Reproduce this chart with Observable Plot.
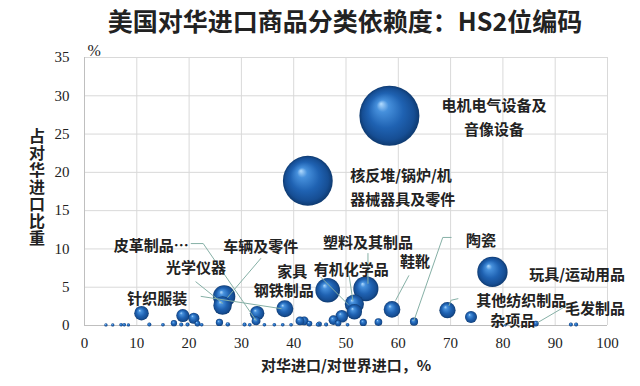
<!DOCTYPE html>
<html><head><meta charset="utf-8">
<script src="https://cdn.jsdelivr.net/npm/d3@7"></script>
<script src="https://cdn.jsdelivr.net/npm/@observablehq/plot@0.6"></script>
<style>
body{margin:0;background:#fff;width:640px;height:386px;overflow:hidden;position:relative;}
#title{height:36px;line-height:40px;text-align:center;font-family:"Noto Sans CJK SC";font-weight:700;font-size:25px;color:#222;padding-left:50px;white-space:nowrap;}
#ylabel{position:absolute;left:27px;top:128px;font-family:"Noto Sans CJK SC";font-weight:700;font-size:16px;line-height:20px;color:#222;writing-mode:vertical-rl;text-orientation:upright;letter-spacing:1px;}
</style></head><body>
<div id="title">美国对华进口商品分类依赖度：HS2位编码</div>
<div id="chart"></div>
<div id="ylabel">占对华进口比重</div>
<script>
// Bubbles: x = 对华进口/对世界进口 (%), y = 占对华进口比重 (%); size ∝ y
const bubbleX = [58.3, 42.7, 78.0, 53.8, 46.5, 51.6, 51.6, 58.8, 69.4, 73.9,
  26.7, 26.4, 38.3, 33.0, 10.9, 18.8, 20.9, 49.2, 47.6, 32.8,
  42.0, 41.2, 63.0, 56.2, 53.3, 25.8, 21.6, 17.1, 43.0, 86.3,
  44.9, 48.5,
  4.1, 5.4, 7.0, 7.6, 8.4, 12.4, 15.0, 18.5, 19.7, 22.4, 27.4, 30.6,
  31.6, 34.4, 36.3, 37.9, 39.5, 44.6, 46.2, 50.3, 80.5, 93.0, 94.0];
const bubbleY = [27.4, 18.9, 7.0, 4.8, 4.6, 2.8, 1.8, 2.1, 2.0, 1.1,
  3.8, 2.6, 2.2, 1.6, 1.6, 1.3, 0.95, 1.2, 0.7, 0.6,
  0.6, 0.6, 0.5, 0.45, 0.4, 0.4, 0.25, 0.3, 0.25, 0.25,
  0.2, 0.3,
  0.08, 0.08, 0.1, 0.1, 0.08, 0.12, 0.1, 0.12, 0.12, 0.1, 0.15, 0.12,
  0.1, 0.1, 0.1, 0.1, 0.1, 0.12, 0.12, 0.1, 0.05, 0.12, 0.12];

// Category labels and where they sit (data units)
const labelText = ["电机电气设备及\n音像设备", "核反堆/锅炉/机\n器械器具及零件", "玩具/运动用品",
  "塑料及其制品", "有机化学品", "家具", "钢铁制品", "针织服装", "光学仪器", "皮革制品…",
  "车辆及零件", "鞋靴", "陶瓷", "其他纺织制品", "杂项品", "毛发制品"];
const labelX = [78.3, 50.8, 94.2, 54.2, 51.0, 39.7, 38.1, 13.9, 21.3, 5.6, 33.7, 63.2, 75.8, 83.5, 81.9, 97.6];
const labelY = [27.4, 18.3, 6.9, 11.1, 7.6, 7.3, 4.8, 3.8, 7.8, 10.7, 10.6, 8.7, 11.4, 3.5, 0.9, 2.5];
const labelAnchor = ["middle", "start", "middle", "middle", "middle", "middle", "middle", "middle",
  "middle", "start", "middle", "middle", "middle", "middle", "middle", "middle"];

// Leader lines (id, x, y in data units)
const leaderId = [1,1,1, 2,2, 3,3, 4,4, 5,5, 6,6, 7,7, 8,8, 9,9,9, 10,10,10, 11,11];
const leaderX = [20.4,22.7,32.8, 33.7,27.4, 21.3,26.4, 22.3,37.6, 45.2,50.4, 50.6,51.3, 54.2,54.2, 62.0,59.5,
  70.1,68.5,63.0, 71.4,70.1,69.7, 92.7,86.7];
const leaderY = [10.7,10.7,0.65, 8.75,3.7, 5.7,2.9, 3.8,2.2, 6.3,2.75, 6.5,3.3, 9.4,5.5, 6.5,3.3,
  11.5,11.5,0.65, 3.5,3.3,2.6, 2.8,0.4];

const xTicks = [0,10,20,30,40,50,60,70,80,90,100];
const yTicks = [0,5,10,15,20,25,30,35];

const labels = labelText.map((t,i)=>({t, x:labelX[i], y:labelY[i], a:labelAnchor[i]}));
const bubbles = bubbleX.map((x,i)=>({x, y:bubbleY[i]}));
const leaders = leaderId.map((id,i)=>({id, x:leaderX[i], y:leaderY[i]}));

const cjk = "Noto Sans CJK SC";
const serif = "Liberation Serif";

const svg = Plot.plot({
  width: 640, height: 350,
  marginTop: 21, marginBottom: 61, marginLeft: 84, marginRight: 33,
  style: {fontFamily: serif, background: "#fff", color: "#222"},
  x: {domain: [0, 100]},
  y: {domain: [0, 35]},
  r: {type: "sqrt", domain: [0, 27.4], range: [0, 30]},
  marks: [
    Plot.gridX(xTicks, {stroke: "#d9d9d9", strokeOpacity: 1}),
    Plot.gridY(yTicks, {stroke: "#d9d9d9", strokeOpacity: 1}),
    Plot.ruleX([0], {stroke: "#bfbfbf"}),
    Plot.ruleY([0], {stroke: "#bfbfbf"}),
    Plot.axisX(xTicks, {tickSize: 0, tickPadding: 12, label: null, fontSize: 15, fontFamily: serif, fill: "#222"}),
    Plot.axisY(yTicks, {tickSize: 0, tickPadding: 15, label: null, fontSize: 15, fontFamily: serif, fill: "#222"}),
    Plot.dot(bubbles, {x: "x", y: "y", r: "y", fill: "url(#sphere)", stroke: "none"}),
    Plot.line(leaders, {x: "x", y: "y", z: "id", stroke: "#86b0a6", strokeWidth: 1, curve: "linear"}),
    Plot.text(labels.filter(d=>d.a==="middle"), {x: "x", y: "y", text: "t", textAnchor: "middle", fontFamily: cjk, fontWeight: 700, fontSize: 15, fill: "#222", lineHeight: 1.6}),
    Plot.text(labels.filter(d=>d.a==="start"), {x: "x", y: "y", text: "t", textAnchor: "start", fontFamily: cjk, fontWeight: 700, fontSize: 15, fill: "#222", lineHeight: 1.6}),
    Plot.text(["%"], {frameAnchor: "top-left", dx: 3, dy: -13, fontFamily: serif, fontSize: 16, fill: "#222"}),
    Plot.text(["对华进口/对世界进口，%"], {frameAnchor: "bottom", dy: 45, fontFamily: cjk, fontWeight: 700, fontSize: 15, fill: "#222"})
  ]
});

const defs = d3.select(svg).insert("defs", ":first-child");
const grad = defs.append("radialGradient").attr("id", "sphere")
  .attr("cx", "50%").attr("cy", "50%").attr("r", "50%").attr("fx", "36%").attr("fy", "30%");
[["0%", "#b3dcff"], ["20%", "#4690dc"], ["58%", "#1f62b2"], ["86%", "#164e94"], ["100%", "#0e3a70"]]
  .forEach(([o, c]) => grad.append("stop").attr("offset", o).attr("stop-color", c));

document.getElementById("chart").appendChild(svg);
</script>
</body></html>
